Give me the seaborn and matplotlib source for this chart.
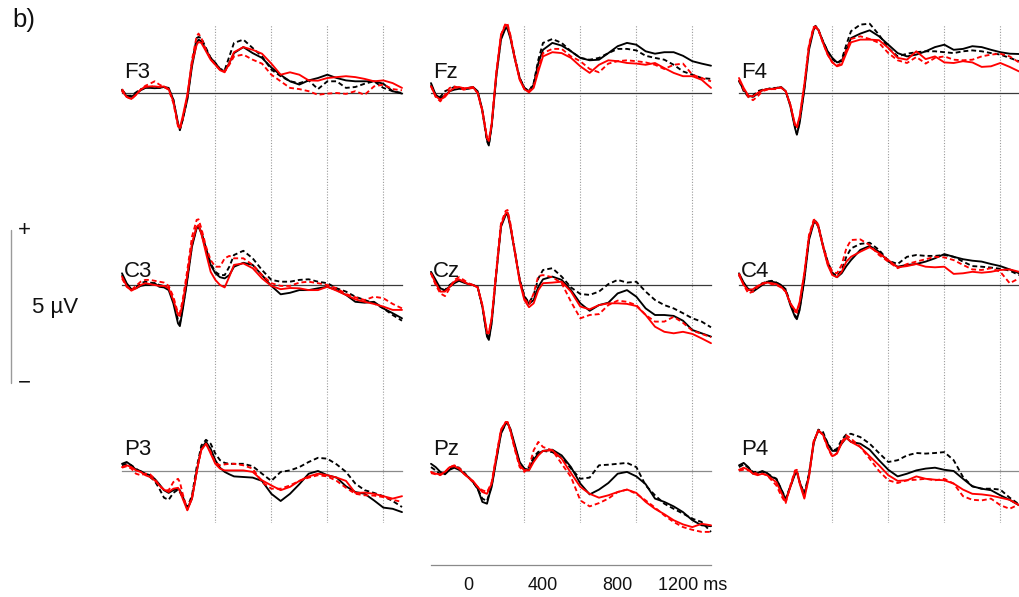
import numpy as np
import pandas as pd
import matplotlib
matplotlib.use("Agg")
import matplotlib.pyplot as plt
import seaborn as sns
from matplotlib.lines import Line2D

# ---------------- data (µV) ----------------
times = [-200, -175, -150, -125, -100, -75, -50, -25, 0,
         25, 50, 75, 100, 110, 125, 150, 175, 200, 210, 225, 250, 275, 300, 325, 350, 375, 400,
         450, 500, 550, 600, 650, 700, 750, 800, 850, 900, 950, 1000, 1050, 1100, 1150, 1200, 1250, 1300]

channels = ["F3", "Fz", "F4", "C3", "Cz", "C4", "P3", "Pz", "P4"]
conditions = ["BD", "BS", "RS", "RD"]
time_ticks = [0, 400, 800, 1200]
time_tick_labels = ["0", "400", "800", "1200 ms"]

F3_bs = [0.11,-0.11,-0.13,-0.02,0.09,0.17,0.17,0.16,0.17,
         0.2,0.17,-0.22,-1.0,-1.22,-0.89,-0.22,0.89,1.67,1.78,1.72,1.44,1.17,1.0,0.8,0.72,1.0,1.33,
         1.53,1.33,1.17,0.85,0.6,0.39,0.28,0.42,0.5,0.61,0.5,0.42,0.39,0.39,0.39,0.31,0.06,-0.02]
F3_bd = [0.11,-0.09,-0.09,0.02,0.13,0.17,0.2,0.22,0.17,
         0.2,0.13,-0.22,-1.06,-1.24,-0.89,-0.17,1.0,1.83,1.87,1.83,1.5,1.17,1.0,0.8,0.76,1.22,1.67,
         1.78,1.5,1.22,0.78,0.56,0.39,0.33,0.42,0.13,0.39,0.39,0.17,0.2,0.31,0.39,0.17,0.06,0.0]
F3_rs = [0.06,-0.13,-0.2,-0.06,0.11,0.2,0.22,0.22,0.2,
         0.22,0.13,-0.28,-1.06,-1.17,-0.78,-0.06,1.0,1.61,1.7,1.67,1.39,1.11,0.94,0.76,0.69,1.0,1.36,
         1.53,1.44,1.31,0.98,0.61,0.69,0.61,0.42,0.41,0.5,0.53,0.56,0.53,0.47,0.39,0.42,0.33,0.17]
F3_rd = [0.13,-0.13,-0.2,-0.06,0.11,0.24,0.31,0.39,0.28,
         0.2,0.11,-0.33,-1.11,-1.2,-0.89,-0.11,1.11,1.89,1.98,1.83,1.44,1.13,0.94,0.78,0.72,0.94,1.22,
         1.28,1.11,0.98,0.61,0.39,0.17,0.13,0.06,-0.06,-0.02,0.0,-0.03,0.06,-0.06,0.22,0.28,0.13,0.09]

Fz_bs = [0.33,-0.06,-0.17,-0.09,0.06,0.11,0.14,0.13,0.14,
         0.2,0.06,-0.56,-1.56,-1.72,-1.11,0.56,1.78,2.17,2.13,1.83,1.11,0.5,0.17,0.06,0.28,1.0,1.44,
         1.67,1.58,1.39,1.17,1.09,1.11,1.33,1.56,1.67,1.61,1.39,1.31,1.36,1.36,1.24,1.06,0.98,0.91]
Fz_bd = [0.28,-0.09,-0.13,0.06,0.13,0.2,0.17,0.16,0.17,
         0.2,0.02,-0.61,-1.61,-1.75,-1.06,0.61,1.83,2.22,2.2,1.89,1.17,0.5,0.17,0.06,0.33,1.11,1.67,
         1.8,1.67,1.39,1.17,1.11,1.17,1.33,1.47,1.47,1.42,1.24,1.17,1.11,0.94,0.72,0.61,0.5,0.47]
Fz_rs = [0.22,-0.11,-0.22,-0.13,0.06,0.17,0.2,0.16,0.17,
         0.2,0.0,-0.61,-1.5,-1.6,-1.06,0.67,1.94,2.28,2.25,1.89,1.11,0.44,0.13,0.02,0.17,0.72,1.22,
         1.36,1.33,1.17,0.89,0.67,0.94,1.09,1.06,1.0,0.98,0.94,1.0,0.83,0.67,0.56,0.56,0.44,0.17]
Fz_rd = [0.24,-0.13,-0.28,-0.06,0.17,0.22,0.17,0.11,0.14,
         0.17,0.0,-0.56,-1.5,-1.58,-1.0,0.67,1.94,2.33,2.3,1.94,1.17,0.47,0.13,0.06,0.22,0.83,1.33,
         1.47,1.47,1.22,1.06,0.8,0.69,0.98,1.06,1.09,1.06,1.02,0.94,0.8,0.94,0.98,0.61,0.5,0.39]

F4_bs = [0.39,0.11,-0.09,-0.13,-0.02,0.09,0.13,0.14,0.16,
         0.2,0.06,-0.44,-1.17,-1.39,-1.0,0.11,1.44,2.11,2.2,2.11,1.72,1.39,1.17,1.02,1.06,1.44,1.83,
         1.98,2.09,1.89,1.61,1.33,1.22,1.28,1.39,1.53,1.61,1.44,1.47,1.56,1.53,1.44,1.36,1.31,1.3]
F4_bd = [0.44,0.06,-0.13,-0.09,0.06,0.11,0.13,0.17,0.17,
         0.2,0.06,-0.39,-1.11,-1.36,-0.94,0.17,1.56,2.17,2.24,2.11,1.72,1.39,1.13,1.0,1.11,1.61,2.06,
         2.28,2.31,1.94,1.5,1.22,1.31,1.36,1.39,1.39,1.36,1.33,1.39,1.42,1.39,1.33,1.28,1.17,1.06]
F4_rs = [0.5,0.17,-0.09,-0.11,0.0,0.09,0.13,0.13,0.16,
         0.18,0.06,-0.39,-1.06,-1.11,-0.78,0.28,1.56,2.17,2.18,2.11,1.67,1.28,1.02,0.89,0.94,1.33,1.69,
         1.78,1.78,1.76,1.5,1.17,1.11,1.39,1.13,1.22,1.02,1.0,1.06,1.02,0.87,0.89,1.0,0.87,0.72]
F4_rd = [0.44,0.11,-0.13,-0.24,-0.11,0.06,0.11,0.13,0.13,
         0.19,0.06,-0.39,-1.06,-1.17,-0.83,0.28,1.61,2.2,2.22,2.11,1.67,1.28,1.02,0.91,1.0,1.44,1.8,
         1.89,1.8,1.67,1.33,1.09,1.0,1.2,0.98,1.17,1.22,1.11,1.09,1.11,1.22,1.28,1.31,1.22,1.02]

C3_bs = [0.39,0.06,-0.14,-0.11,-0.03,0.0,0.0,0.06,-0.06,
         -0.08,-0.17,-0.61,-1.28,-1.37,-0.83,0.17,1.28,1.89,1.94,1.72,1.17,0.67,0.39,0.26,0.22,0.33,0.61,
         0.74,0.67,0.33,-0.03,-0.31,-0.26,-0.17,-0.17,-0.11,-0.06,-0.17,-0.33,-0.56,-0.59,-0.56,-0.78,-0.94,-1.11]
C3_bd = [0.33,0.0,-0.17,-0.08,0.06,0.11,0.08,0.06,0.0,
         -0.03,-0.11,-0.5,-1.17,-1.28,-0.78,0.22,1.33,1.94,1.94,1.78,1.22,0.72,0.44,0.33,0.33,0.61,1.0,
         1.14,0.89,0.5,0.17,0.11,0.11,0.17,0.19,0.11,0.06,-0.11,-0.22,-0.39,-0.5,-0.61,-0.78,-1.0,-1.19]
C3_rs = [0.28,-0.03,-0.19,-0.11,0.0,0.06,0.03,0.0,-0.03,
         -0.03,-0.11,-0.5,-1.0,-1.03,-0.61,0.33,1.39,1.94,2.0,1.72,1.06,0.44,0.17,0.0,-0.08,0.28,0.67,
         0.72,0.56,0.22,-0.03,-0.14,-0.1,-0.11,-0.17,-0.17,-0.06,-0.19,-0.33,-0.48,-0.56,-0.63,-0.72,-0.83,-0.83]
C3_rd = [0.22,-0.06,-0.17,-0.03,0.11,0.17,0.17,0.14,0.11,
         0.08,-0.03,-0.39,-0.94,-0.94,-0.5,0.5,1.61,2.17,2.19,1.89,1.28,0.83,0.61,0.61,0.89,0.97,0.89,
         0.89,0.67,0.33,0.06,-0.03,-0.03,0.08,0.11,0.06,0.0,-0.11,-0.3,-0.41,-0.5,-0.39,-0.44,-0.63,-0.78]

Cz_bs = [0.44,0.17,-0.11,-0.17,-0.06,0.06,0.14,0.08,0.03,
         0.0,-0.06,-0.72,-1.72,-1.83,-1.28,0.39,1.94,2.33,2.37,1.94,1.06,0.17,-0.39,-0.63,-0.5,-0.06,0.19,
         0.28,0.17,-0.17,-0.61,-0.86,-0.67,-0.59,-0.28,-0.17,-0.39,-0.78,-1.0,-1.0,-1.03,-1.19,-1.5,-1.61,-1.72]
Cz_bd = [0.41,0.11,-0.22,-0.17,0.0,0.11,0.17,0.11,0.03,
         0.0,-0.08,-0.72,-1.67,-1.78,-1.22,0.44,2.0,2.39,2.4,2.0,1.11,0.19,-0.37,-0.59,-0.33,0.22,0.5,
         0.56,0.28,-0.08,-0.3,-0.33,-0.22,0.03,0.17,0.08,0.11,-0.22,-0.5,-0.67,-0.78,-0.94,-1.11,-1.22,-1.41]
Cz_rs = [0.39,0.06,-0.22,-0.22,-0.06,0.11,0.19,0.11,0.03,
         0.0,-0.08,-0.67,-1.56,-1.59,-1.11,0.44,2.0,2.39,2.42,2.0,1.06,0.11,-0.5,-0.74,-0.61,-0.17,0.06,
         0.08,0.11,-0.22,-0.72,-0.81,-0.67,-0.61,-0.61,-0.63,-0.7,-1.0,-1.39,-1.56,-1.61,-1.56,-1.63,-1.78,-1.94]
Cz_rd = [0.39,0.0,-0.28,-0.37,-0.11,0.17,0.26,0.17,0.06,
         0.0,-0.08,-0.67,-1.61,-1.61,-1.11,0.5,2.06,2.47,2.5,2.06,1.11,0.17,-0.44,-0.67,-0.28,0.3,0.33,
         0.26,0.06,-0.56,-1.11,-1.0,-0.97,-0.67,-0.52,-0.56,-0.67,-1.0,-1.22,-1.22,-1.06,-1.26,-1.52,-1.63,-1.74]

C4_bs = [0.39,0.08,-0.14,-0.22,-0.11,0.0,0.11,0.11,0.08,
         0.0,-0.17,-0.67,-1.06,-1.14,-0.83,0.17,1.5,2.06,2.1,1.94,1.28,0.72,0.37,0.26,0.39,0.63,0.83,
         1.17,1.3,1.11,0.78,0.61,0.67,0.7,0.78,0.89,1.03,0.94,0.86,0.81,0.78,0.7,0.63,0.52,0.39]
C4_bd = [0.33,0.06,-0.14,-0.17,-0.06,0.06,0.11,0.14,0.08,
         0.0,-0.14,-0.61,-1.0,-1.1,-0.78,0.22,1.56,2.11,2.13,1.97,1.33,0.78,0.41,0.3,0.5,0.94,1.22,
         1.37,1.41,1.17,0.81,0.7,0.94,1.0,0.97,0.97,1.0,0.94,0.78,0.63,0.61,0.58,0.54,0.48,0.33]
C4_rs = [0.33,0.0,-0.17,-0.14,-0.03,0.03,0.08,0.06,0.03,
         -0.06,-0.22,-0.61,-0.83,-0.86,-0.56,0.39,1.61,2.11,2.12,1.94,1.28,0.67,0.33,0.26,0.44,0.78,0.94,
         1.11,1.26,1.06,0.83,0.59,0.63,0.7,0.61,0.59,0.61,0.37,0.39,0.44,0.41,0.44,0.5,0.52,0.44]
C4_rd = [0.39,0.0,-0.28,-0.22,-0.06,0.06,0.08,0.03,0.0,
         -0.08,-0.22,-0.61,-0.89,-0.92,-0.61,0.39,1.67,2.17,2.18,2.0,1.33,0.78,0.44,0.39,0.67,1.22,1.5,
         1.52,1.33,1.0,0.78,0.56,0.7,0.78,0.86,0.94,0.92,0.83,0.67,0.52,0.5,0.56,0.44,0.06,0.22]

P3_bs = [0.24,0.3,0.19,0.04,0.0,-0.09,-0.14,-0.26,-0.44,
         -0.64,-0.73,-0.64,-0.59,-0.64,-0.84,-1.26,-0.92,-0.03,0.3,0.74,0.97,0.74,0.36,0.11,-0.03,-0.11,-0.18,
         -0.2,-0.22,-0.33,-0.76,-1.0,-0.76,-0.44,-0.09,0.0,-0.14,-0.22,-0.51,-0.7,-0.76,-0.98,-1.22,-1.26,-1.37]
P3_bd = [0.19,0.24,0.19,0.08,-0.03,-0.11,-0.2,-0.33,-0.59,
         -0.89,-0.96,-0.73,-0.62,-0.7,-0.89,-1.22,-0.81,0.13,0.4,0.85,1.04,0.91,0.58,0.36,0.27,0.24,0.24,
         0.24,0.16,-0.09,-0.33,-0.03,0.02,0.13,0.3,0.44,0.41,0.22,-0.03,-0.42,-0.64,-0.73,-0.84,-1.0,-1.2]
P3_rs = [0.13,0.19,0.13,0.02,-0.03,-0.14,-0.2,-0.31,-0.48,
         -0.62,-0.7,-0.59,-0.56,-0.67,-0.92,-1.31,-0.92,-0.03,0.3,0.7,0.91,0.58,0.24,0.08,0.02,0.02,0.02,
         0.02,-0.03,-0.31,-0.48,-0.64,-0.53,-0.33,-0.18,-0.09,-0.14,-0.22,-0.33,-0.73,-0.72,-0.76,-0.84,-0.92,-0.84]
P3_rd = [0.11,0.16,0.08,-0.09,-0.14,-0.09,-0.11,-0.26,-0.48,
         -0.64,-0.64,-0.37,-0.26,-0.37,-0.76,-1.29,-0.87,-0.03,0.3,0.72,0.91,0.64,0.27,0.19,0.22,0.24,0.24,
         0.19,0.08,-0.37,-0.59,-0.59,-0.48,-0.33,-0.22,-0.14,-0.18,-0.33,-0.56,-0.76,-0.81,-0.82,-0.87,-0.96,-1.03]

Pz_bs = [0.24,0.13,-0.03,-0.11,0.04,0.11,0.04,-0.07,-0.2,
         -0.37,-0.59,-1.03,-1.09,-0.84,-0.53,0.36,1.24,1.58,1.6,1.41,0.86,0.3,0.08,0.04,0.38,0.58,0.67,
         0.71,0.52,0.13,-0.42,-0.78,-0.62,-0.4,-0.09,-0.03,-0.18,-0.44,-0.92,-1.03,-1.18,-1.37,-1.64,-1.81,-1.84]
Pz_bd = [0.13,0.02,-0.11,-0.09,0.08,0.16,0.11,-0.03,-0.2,
         -0.37,-0.59,-0.92,-1.0,-0.8,-0.48,0.41,1.27,1.58,1.6,1.38,0.81,0.27,0.08,0.13,0.47,0.64,0.67,
         0.63,0.44,0.08,-0.26,-0.22,0.19,0.21,0.24,0.27,0.13,-0.48,-0.81,-1.09,-1.26,-1.42,-1.59,-1.7,-2.03]
Pz_rs = [-0.03,-0.09,-0.11,-0.03,0.13,0.16,0.08,-0.09,-0.22,
         -0.33,-0.53,-0.7,-0.76,-0.62,-0.42,0.47,1.36,1.63,1.63,1.36,0.74,0.19,0.02,0.02,0.3,0.52,0.67,
         0.69,0.41,-0.07,-0.53,-0.76,-0.89,-0.81,-0.7,-0.62,-0.73,-1.03,-1.26,-1.44,-1.64,-1.78,-1.87,-1.76,-1.81]
Pz_rd = [-0.07,-0.11,-0.14,-0.03,0.13,0.19,0.11,-0.07,-0.22,
         -0.37,-0.53,-0.64,-0.7,-0.58,-0.37,0.52,1.38,1.63,1.63,1.33,0.69,0.13,-0.03,0.13,0.69,0.97,0.8,
         0.69,0.24,-0.2,-0.98,-1.18,-1.07,-0.92,-0.7,-0.62,-0.76,-0.98,-1.22,-1.48,-1.7,-1.87,-1.96,-2.03,-2.03]

P4_bs = [0.19,0.27,0.13,-0.09,-0.07,0.0,-0.07,-0.2,-0.26,
         -0.59,-0.96,-0.53,-0.11,-0.03,-0.37,-0.81,-0.14,0.91,1.13,1.33,1.24,0.91,0.67,0.67,0.91,1.11,0.97,
         0.91,0.71,0.36,0.04,-0.18,-0.09,0.02,0.08,0.11,0.04,0.0,-0.26,-0.51,-0.59,-0.64,-0.81,-0.96,-1.14]
P4_bd = [0.13,0.22,0.11,-0.03,-0.03,-0.03,-0.07,-0.18,-0.26,
         -0.59,-0.92,-0.51,-0.07,0.0,-0.37,-0.76,-0.09,0.97,1.11,1.38,1.3,0.93,0.67,0.74,1.04,1.22,1.24,
         1.13,0.91,0.6,0.3,0.36,0.52,0.6,0.58,0.6,0.63,0.36,-0.2,-0.51,-0.59,-0.59,-0.62,-0.89,-1.11]
P4_rs = [0.04,0.11,0.04,-0.09,-0.14,-0.09,-0.14,-0.26,-0.37,
         -0.7,-1.03,-0.53,-0.03,0.0,-0.42,-0.92,-0.2,0.97,1.11,1.36,1.21,0.8,0.49,0.58,0.93,1.11,0.97,
         0.8,0.49,0.19,-0.14,-0.33,-0.31,-0.18,-0.26,-0.29,-0.31,-0.42,-0.62,-0.76,-0.78,-0.82,-0.89,-0.96,-1.14]
P4_rd = [0.02,0.04,0.02,-0.03,-0.11,-0.09,-0.14,-0.31,-0.48,
         -0.81,-1.07,-0.48,0.02,0.04,-0.37,-0.87,-0.14,1.0,1.13,1.36,1.19,0.78,0.47,0.6,0.97,1.19,1.08,
         0.8,0.41,0.0,-0.31,-0.4,-0.31,-0.29,-0.26,-0.31,-0.26,-0.42,-0.84,-0.96,-0.98,-0.92,-1.14,-1.26,-1.11]

traces = {
    "F3": (F3_bd, F3_bs, F3_rs, F3_rd), "Fz": (Fz_bd, Fz_bs, Fz_rs, Fz_rd), "F4": (F4_bd, F4_bs, F4_rs, F4_rd),
    "C3": (C3_bd, C3_bs, C3_rs, C3_rd), "Cz": (Cz_bd, Cz_bs, Cz_rs, Cz_rd), "C4": (C4_bd, C4_bs, C4_rs, C4_rd),
    "P3": (P3_bd, P3_bs, P3_rs, P3_rd), "Pz": (Pz_bd, Pz_bs, Pz_rs, Pz_rd), "P4": (P4_bd, P4_bs, P4_rs, P4_rd),
}

# ---------------- style ----------------
sns.set_style("white")
plt.rcParams["font.family"] = ["Liberation Sans", "DejaVu Sans"]

W, H = 1020, 597
PX_PER_UV = 30.0
col_left = [122, 431, 739]
col_w = 280
rows = [(25, 188, 93, 78, "#3a3a3a"), (188, 395, 285, 277, "#3a3a3a"), (395, 523, 471, 455, "#8a8a8a")]

palette = {"BD": "#000000", "BS": "#000000", "RS": "#ff0000", "RD": "#ff0000"}
dashes = {"BD": (2.6, 1.6), "BS": "", "RS": "", "RD": (2.6, 1.6)}

fig = plt.figure(figsize=(W / 100, H / 100), dpi=100)

for i, ch in enumerate(channels):
    r, c = divmod(i, 3)
    top, bot, zero, base, zcol = rows[r]
    left = col_left[c]
    ax = fig.add_axes([left / W, 1 - bot / H, col_w / W, (bot - top) / H])
    ax.patch.set_alpha(0)
    vals = traces[ch]
    df = pd.DataFrame({
        "t": times * 4,
        "v": [v for tr in vals for v in tr],
        "cond": [cd for cd, tr in zip(conditions, vals) for _ in tr],
    })
    for x in (300, 600, 900, 1200):
        ax.axvline(x, color="#9a9a9a", lw=0.8, ls=(0, (1, 1.5)), zorder=0)
    sns.lineplot(data=df, x="t", y="v", hue="cond", style="cond", palette=palette,
                 dashes=dashes, hue_order=conditions, style_order=conditions,
                 estimator=None, sort=False, legend=False, linewidth=1.35,
                 ax=ax, clip_on=False, zorder=3)
    ax.set_xlim(-200, 1300)
    ax.set_ylim(-(bot - zero) / PX_PER_UV, (zero - top) / PX_PER_UV)
    for s in ("top", "right", "left"):
        ax.spines[s].set_visible(False)
    ax.spines["bottom"].set_position(("data", 0))
    ax.spines["bottom"].set_color(zcol)
    ax.spines["bottom"].set_linewidth(0.9)
    ax.spines["bottom"].set_zorder(1)
    ax.set_xticks(range(-200, 1301, 200))
    ax.tick_params(axis="x", direction="in", length=3, width=0.8, color=zcol, labelbottom=False)
    ax.set_yticks([])
    ax.set_xlabel("")
    ax.set_ylabel("")
    fig.text((left + 2) / W, 1 - base / H, ch, fontsize=16, va="baseline", ha="left", color="#111111")

# time axis under Pz
axt = fig.add_axes([col_left[1] / W, 1 - 565 / H, col_w / W, 8 / H])
axt.patch.set_alpha(0)
axt.set_xlim(-200, 1300)
for s in ("top", "right", "left"):
    axt.spines[s].set_visible(False)
axt.spines["bottom"].set_color("#8a8a8a")
axt.spines["bottom"].set_linewidth(0.9)
axt.set_yticks([])
axt.set_xticks(time_ticks)
axt.set_xticklabels(time_tick_labels)
axt.set_xticks([-200, 200, 600, 1000], minor=True)
axt.tick_params(axis="x", which="both", direction="in", length=3, width=0.8, color="#8a8a8a",
                labelsize=13, pad=9, labelcolor="#111111")

# scale bar
fig.add_artist(Line2D([11 / W, 11 / W], [1 - 230 / H, 1 - 383 / H], transform=fig.transFigure,
                      color="#9a9a9a", lw=1.0))
fig.text(24 / W, 1 - 230 / H, "+", fontsize=16, ha="center", va="center", color="#111111")
fig.text(24 / W, 1 - 383 / H, "\u2212", fontsize=16, ha="center", va="center", color="#111111")
fig.text(32 / W, 1 - 307 / H, "5 \u00b5V", fontsize=16, ha="left", va="center", color="#111111")
fig.text(12 / W, 1 - 27 / H, "b)", fontsize=18.5, ha="left", va="baseline", color="#111111")

fig.savefig("out.png", dpi=100)
